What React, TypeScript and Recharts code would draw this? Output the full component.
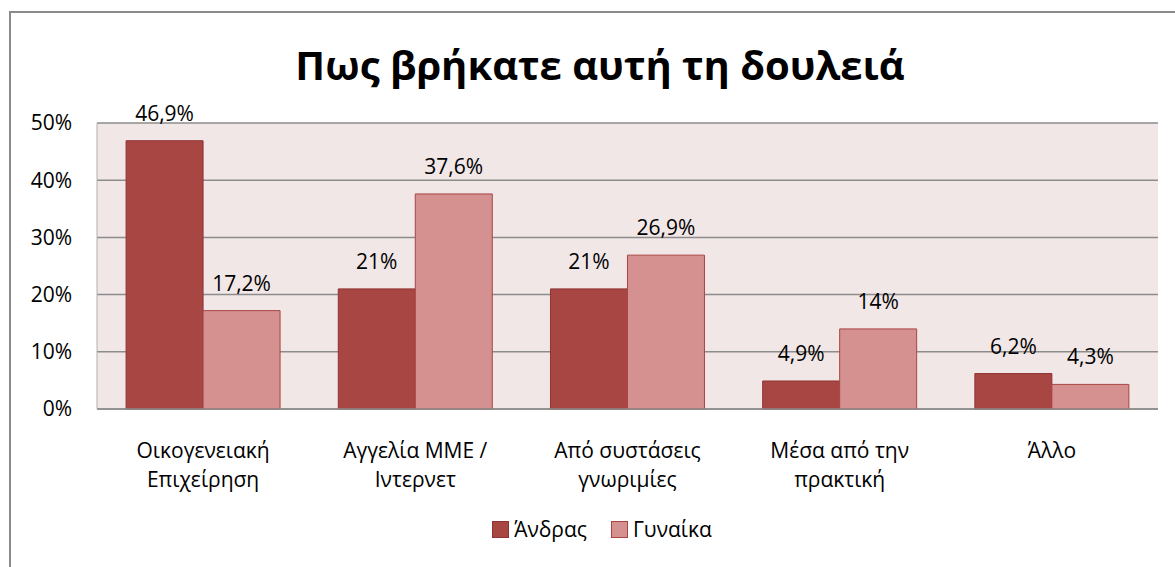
import React from "react";
import { BarChart, Bar, XAxis, YAxis, CartesianGrid, LabelList } from "recharts";

const categories = [
  "Οικογενειακή\nΕπιχείρηση",
  "Αγγελία ΜΜΕ /\nΙντερνετ",
  "Από συστάσεις\nγνωριμίες",
  "Μέσα από την\nπρακτική",
  "Άλλο",
];
const men = [46.9, 21, 21, 4.9, 6.2];
const women = [17.2, 37.6, 26.9, 14, 4.3];
const yTicks = [0, 10, 20, 30, 40, 50];
const seriesNames = ["Άνδρας", "Γυναίκα"];
const title = "Πως βρήκατε αυτή τη δουλειά";

const data = categories.map((c, i) => ({ name: c, men: men[i], women: women[i] }));

const FONT = "'Open Sans', 'Noto Sans', sans-serif";
const FS = 21;
const DARK = "#A84644";
const DARK_STROKE = "#8E3533";
const LIGHT = "#D49190";
const LIGHT_STROKE = "#A84644";

const fmt = (v: any) => String(v).replace(".", ",") + "%";

const XTick = (props: any) => {
  const { x, y, payload } = props;
  const lines = String(payload.value).split("\n");
  return (
    <text x={x} y={y} textAnchor="middle" fontFamily={FONT} fontSize={FS} fill="#000">
      {lines.map((l, i) => (
        <tspan key={i} x={x} dy={i === 0 ? 41 : 29}>
          {l}
        </tspan>
      ))}
    </text>
  );
};

export default function App() {
  return (
    <div style={{ position: "fixed", left: 0, top: 0, width: 1175, height: 567, overflow: "hidden", background: "#fff" }}>
      <div
        style={{
          position: "absolute",
          left: 9,
          top: 11,
          width: 1300,
          height: 700,
          border: "2px solid #8a8a8a",
          boxSizing: "border-box",
        }}
      />
      <div
        style={{
          position: "absolute",
          left: 0,
          top: 35,
          width: 1200,
          textAlign: "center",
          fontFamily: FONT,
          fontWeight: 700,
          fontSize: 40,
          color: "#000",
          lineHeight: "60px",
        }}
      >
        {title}
      </div>
      <div style={{ position: "absolute", left: 0, top: 0 }}>
        <BarChart
          width={1175}
          height={567}
          data={data}
          margin={{ top: 123, right: 17, bottom: 0, left: 17 }}
          barCategoryGap="13.7%"
          barGap={0}
        >
          <CartesianGrid vertical={false} stroke="#8c8c8c" strokeWidth={1.5} fill="#F2E7E7" />
          <XAxis
            dataKey="name"
            tick={<XTick />}
            tickLine={false}
            axisLine={{ stroke: "#8c8c8c", strokeWidth: 1.5 }}
            interval={0}
            height={158}
          />
          <YAxis
            width={80}
            domain={[0, 50]}
            ticks={yTicks}
            interval={0}
            tickFormatter={(v: number) => `${v}%`}
            tick={{ fontFamily: FONT, fontSize: FS, fill: "#000" }}
            tickLine={false}
            tickSize={0}
            tickMargin={25}
            axisLine={{ stroke: "#b0b0b0", strokeWidth: 1 }}
          />
          <Bar dataKey="men" fill={DARK} stroke={DARK_STROKE} strokeWidth={1} isAnimationActive={false}>
            <LabelList
              dataKey="men"
              position="top"
              offset={20}
              formatter={fmt}
              style={{ fontFamily: FONT, fontSize: FS, fill: "#000" }}
            />
          </Bar>
          <Bar dataKey="women" fill={LIGHT} stroke={LIGHT_STROKE} strokeWidth={1} isAnimationActive={false}>
            <LabelList
              dataKey="women"
              position="top"
              offset={20}
              formatter={fmt}
              style={{ fontFamily: FONT, fontSize: FS, fill: "#000" }}
            />
          </Bar>
        </BarChart>
      </div>
      <div
        style={{
          position: "absolute",
          left: 0,
          top: 515,
          width: 1204,
          display: "flex",
          justifyContent: "center",
          alignItems: "center",
          fontFamily: FONT,
          fontSize: FS,
          color: "#000",
        }}
      >
        {seriesNames.map((n, i) => (
          <div key={n} style={{ display: "flex", alignItems: "center", marginRight: i === 0 ? 24 : 0 }}>
            <div
              style={{
                width: 15,
                height: 15,
                background: i === 0 ? DARK : LIGHT,
                border: `1px solid ${i === 0 ? DARK_STROKE : LIGHT_STROKE}`,
                marginRight: 5,
              }}
            />
            <span>{n}</span>
          </div>
        ))}
      </div>
    </div>
  );
}
